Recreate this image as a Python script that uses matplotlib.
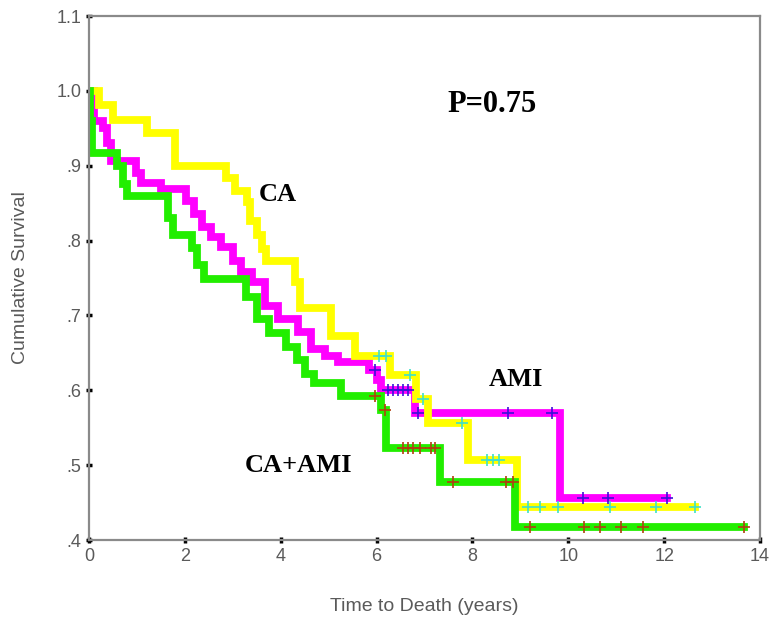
import numpy as np
import matplotlib
matplotlib.use('Agg')
import matplotlib.pyplot as plt

plt.rcParams['font.family'] = ['Liberation Sans', 'DejaVu Sans']

# Kaplan-Meier step data (time in years, cumulative survival)
ca_t = [0, 0.2, 0.5, 1.2, 1.8, 2.85, 3.05, 3.3, 3.35, 3.5, 3.6, 3.7, 4.3, 4.4,
        5.05, 5.55, 6.28, 6.82, 7.07, 7.9, 8.92, 12.65]
ca_s = [1.0, 0.981, 0.961, 0.944, 0.90, 0.883, 0.866, 0.852, 0.826, 0.807, 0.789,
        0.773, 0.745, 0.71, 0.673, 0.646, 0.621, 0.588, 0.557, 0.507, 0.444, 0.444]
ca_cens = [6.05, 6.2, 6.7, 6.97, 7.78, 8.3, 8.42, 8.55, 9.15, 9.40, 9.78, 10.88,
           11.82, 12.65]

ami_t = [0, 0.1, 0.3, 0.38, 0.45, 0.98, 1.08, 1.5, 2.02, 2.2, 2.35, 2.55, 2.75,
         3.0, 3.18, 3.4, 3.68, 3.95, 4.37, 4.64, 4.93, 5.2, 5.85, 6.0, 6.1, 6.8,
         9.82, 12.07]
ami_s = [1.0, 0.96, 0.95, 0.93, 0.907, 0.89, 0.877, 0.869, 0.853, 0.836, 0.818,
         0.805, 0.792, 0.773, 0.758, 0.745, 0.713, 0.695, 0.678, 0.655, 0.646,
         0.638, 0.627, 0.614, 0.601, 0.570, 0.456, 0.456]
ami_cens = [5.97, 6.24, 6.34, 6.45, 6.55, 6.66, 6.86, 8.74, 9.67, 10.3, 10.82, 12.07]

grn_t = [0, 0.02, 0.06, 0.58, 0.7, 0.8, 1.65, 1.75, 2.14, 2.25, 2.4, 3.27, 3.5,
         3.75, 4.1, 4.35, 4.5, 4.7, 5.25, 6.1, 6.2, 7.32, 8.88, 13.67]
grn_s = [1.0, 0.96, 0.917, 0.9, 0.876, 0.859, 0.83, 0.807, 0.79, 0.768, 0.749,
         0.725, 0.695, 0.676, 0.658, 0.64, 0.622, 0.61, 0.592, 0.574, 0.523,
         0.478, 0.417, 0.417]
grn_cens = [5.97, 6.18, 6.55, 6.66, 6.76, 6.9, 7.14, 7.22, 7.59, 8.70, 8.84, 9.2,
            10.32, 10.67, 11.09, 11.55, 13.67]

x_ticks = [0, 2, 4, 6, 8, 10, 12, 14]
y_ticks = [0.4, 0.5, 0.6, 0.7, 0.8, 0.9, 1.0, 1.1]
y_labels = ['.4', '.5', '.6', '.7', '.8', '.9', '1.0', '1.1']


def surv_at(t, s, c):
    idx = np.searchsorted(t, c, side='right') - 1
    return np.asarray(s)[idx]


fig = plt.figure(figsize=(7.7, 6.28), dpi=100)
ax = fig.add_axes([0.1156, 0.140, 0.8714, 0.8345])

groups = [
    (ami_t, ami_s, ami_cens, '#ff00ff', '#3a10d8'),
    (ca_t, ca_s, ca_cens, '#ffff00', '#40e0c8'),
    (grn_t, grn_s, grn_cens, '#22ee00', '#b04010'),
]
for t, s, c, col, ccol in groups:
    ax.step(t, s, where='post', color=col, lw=5.6, solid_joinstyle='miter', zorder=2)
for t, s, c, col, ccol in groups:
    ax.plot(c, surv_at(t, s, c), ls='none', marker='+', ms=9, mew=1.2,
            color=ccol, zorder=3)

ax.set_xlim(0, 14)
ax.set_ylim(0.4, 1.1)
ax.set_xticks(x_ticks)
ax.set_yticks(y_ticks)
ax.set_yticklabels(y_labels)
ax.tick_params(direction='inout', length=5, width=2.5, color='black',
               labelsize=13, labelcolor='#5a5a5a', pad=3)
for sp in ax.spines.values():
    sp.set_color('#8a8a8a')
    sp.set_linewidth(1.6)

ax.set_xlabel('Time to Death (years)', fontsize=14, color='#5a5a5a', labelpad=24)
ax.set_ylabel('Cumulative Survival', fontsize=14, color='#5a5a5a', labelpad=20)

serif = ['Liberation Serif', 'DejaVu Serif']
ax.text(8.41, 0.982, 'P=0.75', family=serif, fontweight='bold', fontsize=22,
        ha='center', va='center')
ax.text(3.94, 0.862, 'CA', family=serif, fontweight='bold', fontsize=19,
        ha='center', va='center')
ax.text(8.91, 0.614, 'AMI', family=serif, fontweight='bold', fontsize=19,
        ha='center', va='center')
ax.text(4.38, 0.50, 'CA+AMI', family=serif, fontweight='bold', fontsize=19,
        ha='center', va='center')

fig.savefig('out.png', dpi=100)
